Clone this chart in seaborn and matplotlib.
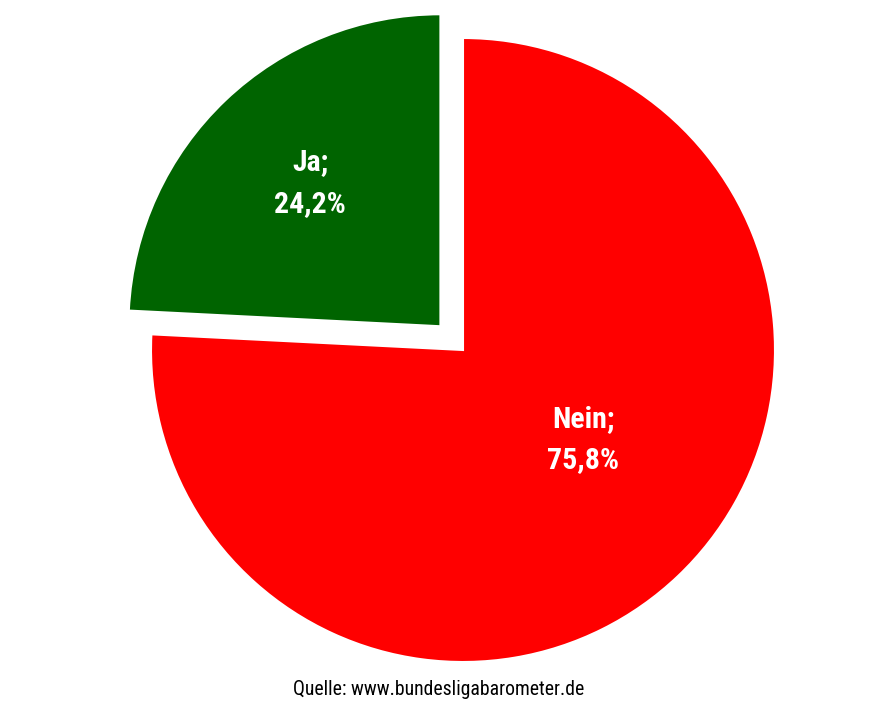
"""Kreisdiagramm: Ja / Nein Umfrage (bundesligabarometer)."""
import matplotlib
matplotlib.use("Agg")
import matplotlib.pyplot as plt
from matplotlib import font_manager
import seaborn as sns

antworten = ["Ja", "Nein"]
anteile = [24.2, 75.8]
farben = ["#006400", "#FF0000"]
explode = [0.105, 0.0]
quelle = "Quelle: www.bundesligabarometer.de"

# Textpositionen (Datenkoordinaten, Radius = 1)
label_pos = {"Ja": (-0.49, 0.535), "Nein": (0.385, -0.288)}

sns.set_theme(style="white")

# schmale Schrift suchen, sonst DejaVu Sans
fonts = font_manager.fontManager.ttflist
namen = {f.name for f in fonts}
stretch = "normal"
familie = "DejaVu Sans"
for kandidat in ["Liberation Sans Narrow", "Roboto Condensed", "Open Sans Condensed",
                 "Noto Sans Condensed", "DejaVu Sans Condensed"]:
    if kandidat in namen:
        familie = kandidat
        break
else:
    if any(f.name == "DejaVu Sans" and str(f.stretch) in ("condensed", "semi-condensed", "500", "300")
           for f in fonts):
        stretch = "condensed"
plt.rcParams["font.family"] = [familie, "DejaVu Sans"]
plt.rcParams["font.stretch"] = stretch

fig = plt.figure(figsize=(8.86, 7.15), dpi=100)
ax = fig.add_axes([0, 0, 1, 1])

ax.pie(
    anteile,
    colors=farben,
    explode=explode,
    startangle=90,
    counterclock=True,
    wedgeprops={"linewidth": 1.5, "edgecolor": "white"},
)

for name, wert in zip(antworten, anteile):
    x, y = label_pos[name]
    txt = f"{name};\n{wert:.1f}%".replace(".", ",")
    ax.text(x, y, txt, ha="center", va="center", color="white",
            fontsize=21.5, fontweight="bold", linespacing=1.6)

# Skala: 312 px pro Einheit, Mittelpunkt bei (463, 350) px
ax.set_aspect("auto")
ax.set_xlim(-463 / 312, (886 - 463) / 312)
ax.set_ylim(-(715 - 350) / 312, 350 / 312)
ax.axis("off")

fig.text(0.4955, 0.036, quelle, ha="center", va="center",
         fontsize=14.2, color="black")

fig.savefig("out.png", dpi=100)
